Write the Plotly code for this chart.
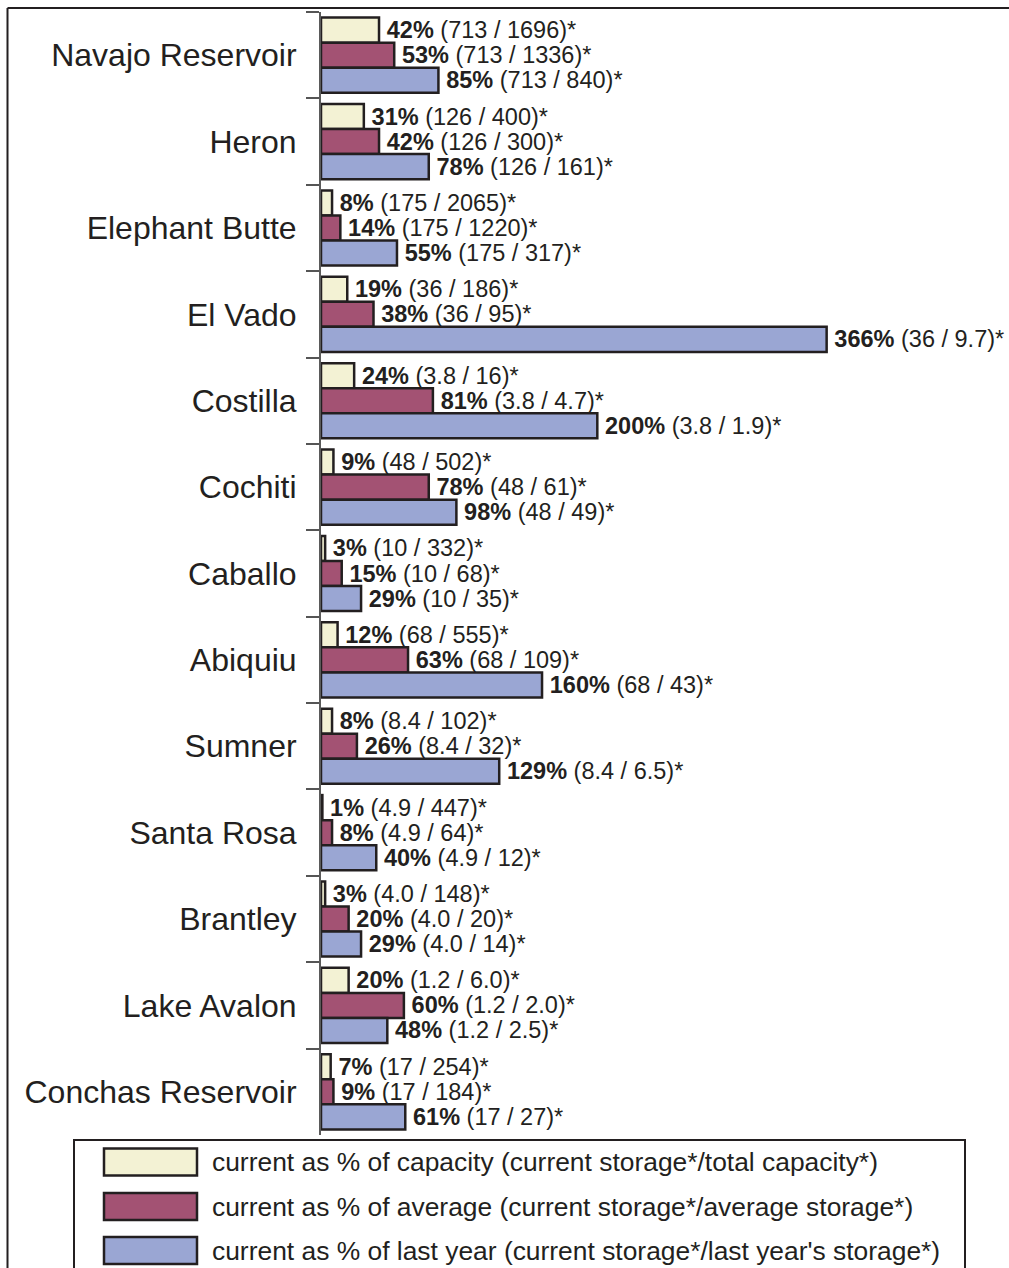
import plotly.graph_objects as go

reservoirs = ["Navajo Reservoir", "Heron", "Elephant Butte", "El Vado", "Costilla",
              "Cochiti", "Caballo", "Abiquiu", "Sumner", "Santa Rosa", "Brantley",
              "Lake Avalon", "Conchas Reservoir"]
pct_capacity = [42, 31, 8, 19, 24, 9, 3, 12, 8, 1, 3, 20, 7]
pct_average = [53, 42, 14, 38, 81, 78, 15, 63, 26, 8, 20, 60, 9]
pct_last_year = [85, 78, 55, 366, 200, 98, 29, 160, 129, 40, 29, 48, 61]
current_storage = ["713", "126", "175", "36", "3.8", "48", "10", "68", "8.4", "4.9", "4.0", "1.2", "17"]
total_capacity = ["1696", "400", "2065", "186", "16", "502", "332", "555", "102", "447", "148", "6.0", "254"]
average_storage = ["1336", "300", "1220", "95", "4.7", "61", "68", "109", "32", "64", "20", "2.0", "184"]
last_year_storage = ["840", "161", "317", "9.7", "1.9", "49", "35", "43", "6.5", "12", "14", "2.5", "27"]
series_names = [
    "current as % of capacity (current storage*/total capacity*)",
    "current as % of average (current storage*/average storage*)",
    "current as % of last year (current storage*/last year's storage*)",
]
series_colors = ["#F3F2D4", "#A35273", "#9AA6D3"]

INK = "#231F20"
FONT = "Liberation Sans, Arial, sans-serif"
W, H = 1009, 1268
L, R, T, B = 321, 0, 12, 133
PW, PH = W - L - R, H - T - B


def px(x):
    return (x - L) / PW


def py(y):
    return (H - B - y) / PH


fig = go.Figure()
series_pct = [pct_capacity, pct_average, pct_last_year]
series_den = [total_capacity, average_storage, last_year_storage]
for name, color, pcts, dens in zip(series_names, series_colors, series_pct, series_den):
    texts = ["\u2009<b>%d%%</b> (%s / %s)*" % (p, c, d) for p, c, d in zip(pcts, current_storage, dens)]
    fig.add_trace(go.Bar(
        y=reservoirs, x=pcts, orientation="h", name=name,
        marker=dict(color=color, line=dict(color=INK, width=2.5)),
        text=texts, textposition="outside", constraintext="none",
        textangle=0, cliponaxis=False,
        outsidetextfont=dict(family=FONT, size=23.5, color=INK),
        showlegend=False, hoverinfo="skip",
    ))

fig.update_layout(
    width=W, height=H, autosize=False,
    margin=dict(l=L, r=R, t=T, b=B, pad=0),
    paper_bgcolor="white", plot_bgcolor="white",
    barmode="group", bargap=0.13, bargroupgap=0,
    font=dict(family=FONT, color=INK),
    xaxis=dict(range=[0, 498], visible=False),
    yaxis=dict(
        categoryorder="array", categoryarray=reservoirs, autorange="reversed",
        showline=True, linecolor="#5a5a5a", linewidth=2,
        ticks="outside", tickson="boundaries", ticklen=13, tickcolor="#555555", tickwidth=1.5,
        ticklabelstandoff=16,
        tickfont=dict(family=FONT, size=32, color=INK),
        showgrid=False, zeroline=False,
    ),
)

shapes = []
# outer border (left and top)
shapes.append(dict(type="line", xref="paper", yref="paper", x0=px(7.5), x1=px(7.5), y0=py(8), y1=py(1290),
                   line=dict(color=INK, width=2)))
shapes.append(dict(type="line", xref="paper", yref="paper", x0=px(7.5), x1=px(1020), y0=py(8), y1=py(8),
                   line=dict(color=INK, width=2)))
# legend box
shapes.append(dict(type="rect", xref="paper", yref="paper", x0=px(74), x1=px(965), y0=py(1140), y1=py(1290),
                   line=dict(color=INK, width=2), fillcolor="rgba(0,0,0,0)"))
legend_rows = [1162, 1206.5, 1250.5]
annotations = []
for name, color, yc in zip(series_names, series_colors, legend_rows):
    shapes.append(dict(type="rect", xref="paper", yref="paper", x0=px(104), x1=px(197),
                       y0=py(yc + 13.5), y1=py(yc - 13.5),
                       line=dict(color=INK, width=2.5), fillcolor=color))
    annotations.append(dict(xref="paper", yref="paper", x=px(210), y=py(yc), text=name,
                            showarrow=False, xanchor="left", yanchor="middle",
                            font=dict(family=FONT, size=26.4, color=INK)))
fig.update_layout(shapes=shapes, annotations=annotations)

fig.write_html("out.html", config={"displayModeBar": False},
               post_script="document.body.style.margin='0';")
